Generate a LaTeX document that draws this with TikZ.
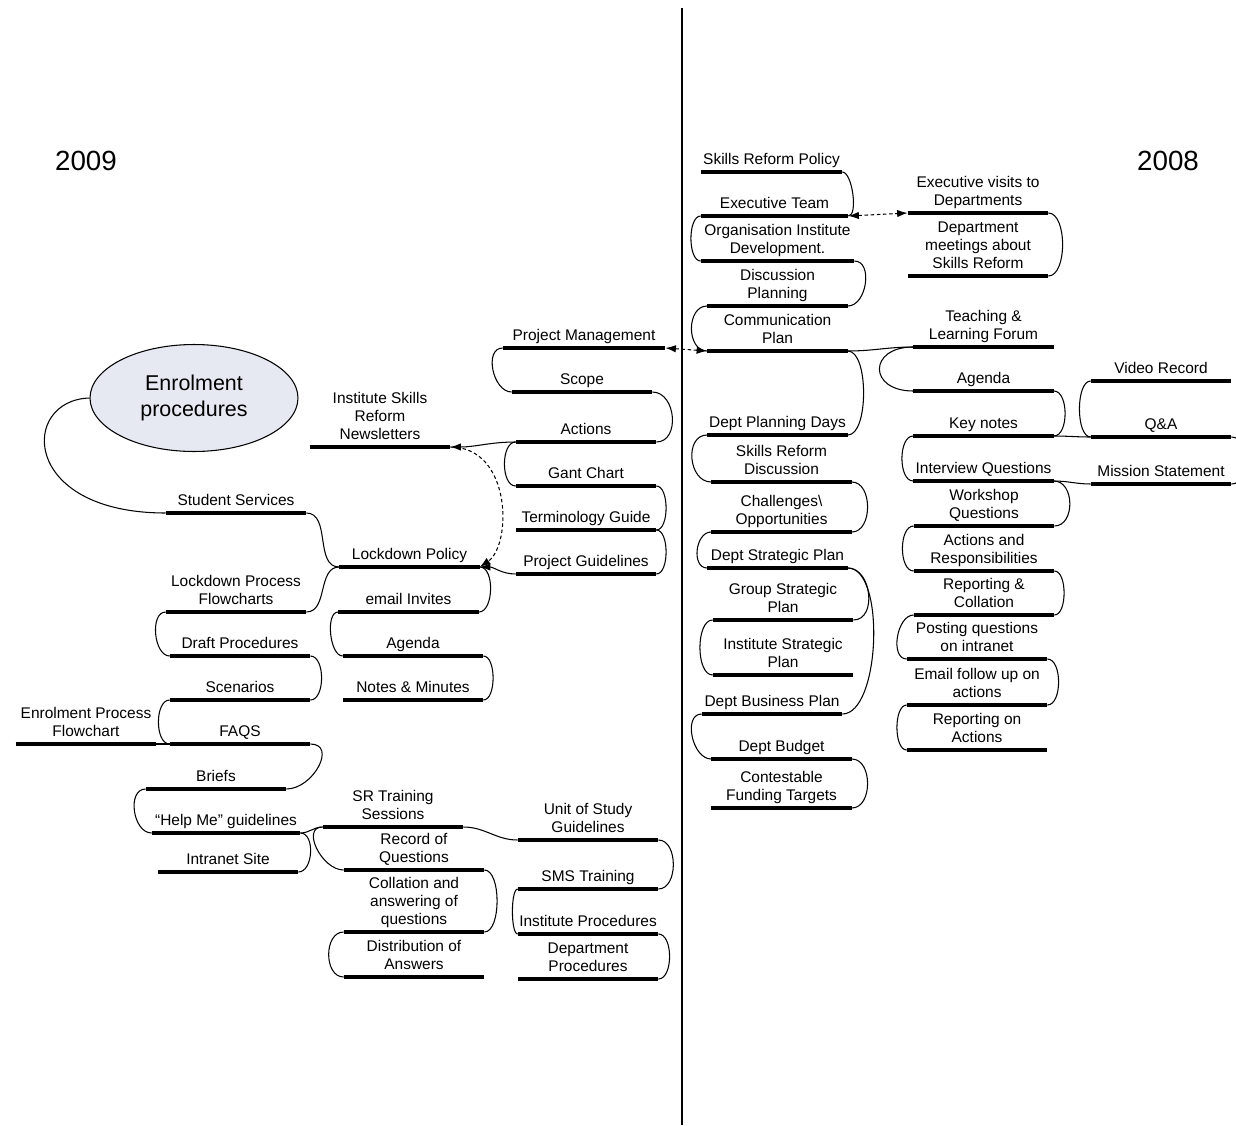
\documentclass[tikz,border=0pt]{standalone}
\usepackage{fontspec}
\setmainfont{Liberation Sans}
\usetikzlibrary{shapes.geometric, arrows.meta}
\newcommand\topicfont{\fontsize{8.8}{10.2}\selectfont}
\newcommand\yearfont{\fontsize{15.8}{18}\selectfont}
\newcommand\enrfont{\fontsize{12.2}{14.6}\selectfont}
\definecolor{enrfill}{RGB}{231,233,242}
\tikzset{
  topic/.style={anchor=south, inner xsep=0pt, inner ysep=2.3pt, text depth=2pt,
    align=center, minimum width=2.8cm, font=\topicfont},
  bar/.style={line width=2.6pt},
  link/.style={line width=0.6pt},
  dashlink/.style={link, dash pattern=on 2pt off 1.5pt},
  >={Latex[length=6pt,width=4.2pt]}
}

\begin{document}
\begin{tikzpicture}[x=0.02cm, y=-0.02cm]
\clip (0,0) rectangle (1236,1125);
\fill[white] (0,0) rectangle (1236,1125);

% divider and years
\coordinate (divtop) at (682,8);
\coordinate (divbot) at (682,1125);
\draw[line width=0.7pt] (divtop) -- (divbot);
\node[font=\yearfont] (y09) at (86,161) {2009};
\node[font=\yearfont] (y08) at (1168,161) {2008};

% 2008, left column
\node[topic, minimum width=2.82cm] (srp) at (771.5,172) {Skills Reform Policy};
\node[topic, minimum width=2.94cm] (et) at (774.5,216) {Executive Team};
\node[topic, minimum width=3.06cm] (oid) at (777.5,261) {Organisation Institute\\Development.};
\node[topic] (dplan) at (777.5,306) {Discussion\\Planning};
\node[topic] (cp) at (777.5,351) {Communication\\Plan};
\node[topic] (dpd) at (777.5,435) {Dept Planning Days};
\node[topic] (srd) at (781.5,482) {Skills Reform\\Discussion};
\node[topic] (co) at (781.5,532) {Challenges\textbackslash\\Opportunities};
\node[topic] (dsp) at (777.5,568) {Dept Strategic Plan};
\node[topic] (gsp) at (783,620) {Group Strategic\\Plan};
\node[topic] (isp) at (783,675) {Institute Strategic\\Plan};
\node[topic] (dbp) at (772,714) {Dept Business Plan};
\node[topic] (db) at (781.5,759) {Dept Budget};
\node[topic] (cft) at (781.5,808) {Contestable\\Funding Targets};

% 2008, right columns
\node[topic] (evd) at (978,213) {Executive visits to\\Departments};
\node[topic] (dm) at (978,276) {Department\\meetings about\\Skills Reform};
\node[topic] (tlf) at (983.5,347) {Teaching \&\\Learning Forum};
\node[topic] (agr) at (983.5,391) {Agenda};
\node[topic] (kn) at (983.5,436) {Key notes};
\node[topic] (iq) at (983.5,481) {Interview Questions};
\node[topic] (wq) at (984,526) {Workshop\\Questions};
\node[topic] (ar) at (984,571) {Actions and\\Responsibilities};
\node[topic] (rc) at (984,615) {Reporting \&\\Collation};
\node[topic] (pq) at (977,659) {Posting questions\\on intranet};
\node[topic] (ef) at (977,705) {Email follow up on\\actions};
\node[topic] (ra) at (977,750) {Reporting on\\Actions};
\node[topic] (vr) at (1161,381) {Video Record};
\node[topic] (qa) at (1161,437) {Q\&A};
\node[topic] (ms) at (1161,484) {Mission Statement};

% 2009
\node[draw, ellipse, fill=enrfill, line width=0.6pt, minimum width=4.16cm,
  minimum height=2.14cm, align=center, font=\enrfont] (enr) at (194,398) {Enrolment\\procedures};
\node[topic, minimum width=3.24cm] (pm) at (584,348) {Project Management};
\node[topic] (scope) at (582,392) {Scope};
\node[topic] (act) at (586,442) {Actions};
\node[topic] (gc) at (586,486) {Gant Chart};
\node[topic] (tg) at (586,530) {Terminology Guide};
\node[topic] (pg) at (586,574) {Project Guidelines};
\node[topic] (isrn) at (380,447) {Institute Skills\\Reform\\Newsletters};
\node[topic] (ss) at (236,513) {Student Services};
\node[topic] (lp) at (409.5,567) {Lockdown Policy};
\node[topic] (lpf) at (236,612) {Lockdown Process\\Flowcharts};
\node[topic] (ei) at (408.5,612) {email Invites};
\node[topic] (dpr) at (240,656) {Draft Procedures};
\node[topic] (agl) at (413,656) {Agenda};
\node[topic] (nm) at (413,700) {Notes \& Minutes};
\node[topic] (sc) at (240,700) {Scenarios};
\node[topic] (faqs) at (240,744) {FAQS};
\node[topic] (epf) at (86,744) {Enrolment Process\\Flowchart};
\node[topic] (br) at (216,789) {Briefs};
\node[topic, minimum width=2.96cm] (hm) at (226,833) {“Help Me” guidelines};
\node[topic] (is) at (228,872) {Intranet Site};
\node[topic] (srts) at (393,827) {SR Training\\Sessions};
\node[topic] (rq) at (414,870) {Record of\\Questions};
\node[topic] (ca) at (414,932) {Collation and\\answering of\\questions};
\node[topic] (da) at (414,977) {Distribution of\\Answers};
\node[topic] (usg) at (588,840) {Unit of Study\\Guidelines};
\node[topic] (sms) at (588,889) {SMS Training};
\node[topic] (ip) at (588,934) {Institute Procedures};
\node[topic] (deptp) at (588,979) {Department\\Procedures};

% bars under the topics
\foreach \n in {srp,et,oid,dplan,cp,dpd,srd,co,dsp,gsp,isp,dbp,db,cft,
  evd,dm,tlf,agr,kn,iq,wq,ar,rc,pq,ef,ra,vr,qa,ms,
  pm,scope,act,gc,tg,pg,isrn,ss,lp,lpf,ei,dpr,agl,nm,sc,faqs,epf,br,hm,is,
  srts,rq,ca,da,usg,sms,ip,deptp}
  \draw[bar] (\n.south west) -- (\n.south east);

% loops on the right ends
\foreach \a/\b/\d in {srp/et/10, oid/dplan/19, evd/dm/19, cp/dpd/21, srd/co/21,
  dsp/gsp/24, dsp/dbp/38, db/cft/21, agr/kn/15, iq/wq/21, ar/rc/13, pq/ef/15,
  qa/ms/20, scope/act/24, gc/tg/13, tg/pg/13, lp/ei/15, agl/nm/13, dpr/sc/15,
  faqs/br/27, hm/is/15, rq/ca/17, usg/sms/20, ip/deptp/15}
  \draw[link] (\a.south east) .. controls +(\d,0) and +(\d,0) .. (\b.south east);

% loops on the left ends
\foreach \a/\b/\d in {et/oid/13, dplan/cp/21, dpd/srd/23, co/dsp/16, gsp/isp/17,
  dbp/db/19, tlf/agr/45, kn/iq/15, vr/qa/15, wq/ar/15, rc/pq/17, ef/ra/13,
  pm/scope/19, act/gc/15, lpf/dpr/16, ei/agl/13, sc/faqs/15, br/hm/19,
  srts/rq/22, ca/da/20, sms/ip/7}
  \draw[link] (\a.south west) .. controls +(-\d,0) and +(-\d,0) .. (\b.south west);

% links between branches
\draw[link] (cp.south east) to[out=0, in=180] (tlf.south west);
\draw[link] (kn.south east) to[out=0, in=180] (qa.south west);
\draw[link] (iq.south east) to[out=0, in=180] (ms.south west);
\draw[link] (enr.west) .. controls (20,400) and (20,513) .. (ss.south west);
\draw[link] (ss.south east) to[out=0, in=180] (lp.south west);
\draw[link] (lp.south west) to[out=180, in=0] (lpf.south east);
\draw[link] (faqs.south west) -- (epf.south east);
\draw[link] (hm.south east) to[out=0, in=180] (srts.south west);
\draw[link] (srts.south east) to[out=0, in=180] (usg.south west);
\draw[link, ->] (act.south west) to[out=180, in=0] (isrn.south east);
\draw[link, ->] (pg.south west) to[out=180, in=0] (lp.south east);

% dashed arrows
\draw[dashlink, <->] (et.south east) -- (evd.south west);
\draw[dashlink, <->] (pm.south east) -- (cp.south west);
\draw[dashlink, ->] (isrn.south east) .. controls (512,447) and (512,545) .. (lp.south east);
\end{tikzpicture}
\end{document}
